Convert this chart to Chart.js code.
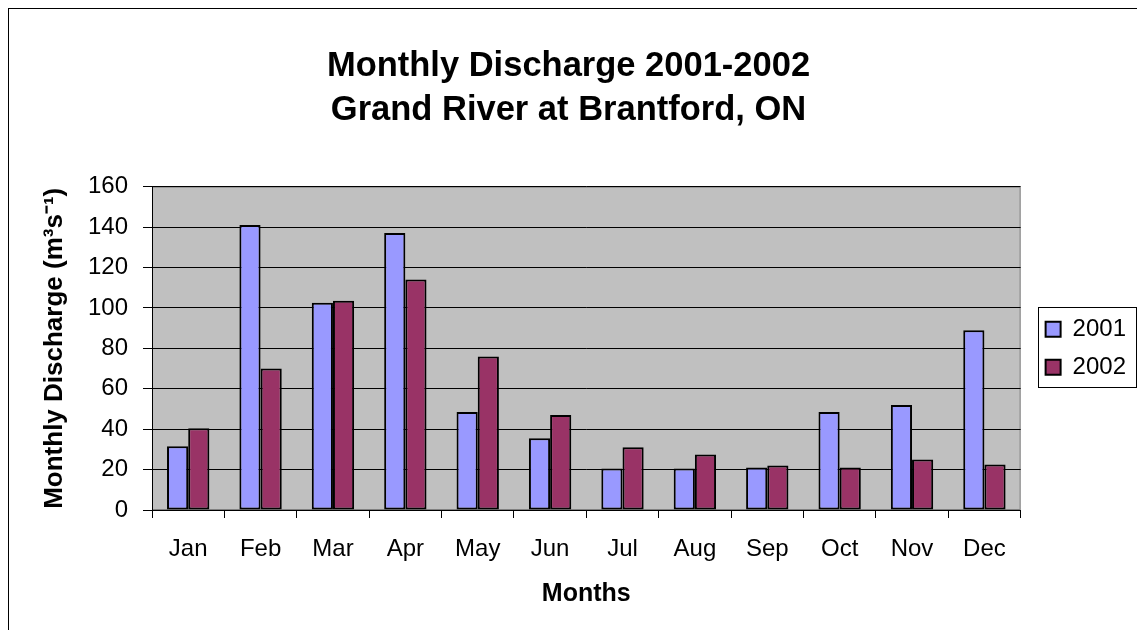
<!DOCTYPE html>
<html>
<head>
<meta charset="utf-8">
<script src="https://cdn.jsdelivr.net/npm/chart.js@4/dist/chart.umd.min.js"></script>
<style>
  html, body { margin: 0; padding: 0; background: #fff; overflow: hidden; }
  #frame { position: absolute; left: 8px; top: 8px; width: 1200px; height: 700px; border: 1px solid #000; }
  #wrap { position: absolute; left: 0; top: 0; width: 1137px; height: 630px; }
</style>
</head>
<body>
<div id="frame"></div>
<div id="wrap"><canvas id="grafico"></canvas></div>
<script>
const MESES = ['Jan', 'Feb', 'Mar', 'Apr', 'May', 'Jun', 'Jul', 'Aug', 'Sep', 'Oct', 'Nov', 'Dec'];
const VAZAO_2001 = [31.5, 141, 102.5, 137, 48.5, 35.5, 20.5, 20.5, 21, 48.5, 52, 89];
const VAZAO_2002 = [40.5, 70, 103.5, 114, 76, 47, 31, 27.5, 22, 21, 25, 22.5];
const Y_MIN = 0;
const Y_MAX = 160;
const Y_PASSO = 20;

const FONTE = '"Liberation Sans", Arial, sans-serif';

// fundo cinza da area do grafico
const fundoPlot = {
    id: 'fundoPlot',
    beforeDraw(chart) {
        const {ctx, chartArea: a} = chart;
        ctx.save();
        ctx.fillStyle = '#C0C0C0';
        ctx.fillRect(a.left, a.top, a.right - a.left, a.bottom - a.top);
        ctx.strokeStyle = '#808080';
        ctx.lineWidth = 1;
        ctx.strokeRect(a.left + 0.5, a.top + 0.5, a.right - a.left - 1, a.bottom - a.top - 1);
        ctx.restore();
    }
};

// legenda um pouco mais larga e deslocada p/ direita
const ajusteLegenda = {
    id: 'ajusteLegenda',
    beforeLayout(chart) {
        const leg = chart.legend;
        if (leg && !leg._alargada) {
            const fitOriginal = leg.fit;
            leg.fit = function () { fitOriginal.call(this); this.width += 12; };
            leg._alargada = true;
        }
    },
    afterLayout(chart) {
        const leg = chart.legend;
        if (!leg) return;
        leg.left += 11;
        leg.right += 11;
    }
};

// moldura da legenda
const bordaLegenda = {
    id: 'bordaLegenda',
    afterDraw(chart) {
        const caixas = chart.legend.legendHitBoxes;
        if (!caixas || !caixas.length) return;
        let x1 = Infinity, y1 = Infinity, x2 = -Infinity, y2 = -Infinity;
        caixas.forEach(b => {
            x1 = Math.min(x1, b.left); y1 = Math.min(y1, b.top);
            x2 = Math.max(x2, b.left + b.width); y2 = Math.max(y2, b.top + b.height);
        });
        const ctx = chart.ctx;
        ctx.save();
        ctx.strokeStyle = '#000';
        ctx.lineWidth = 1;
        ctx.strokeRect(Math.round(x1 - 8) + 0.5, Math.round(y1 - 10) + 0.5, Math.round(x2 - x1 + 18), Math.round(y2 - y1 + 18));
        ctx.restore();
    }
};

var grafico = new Chart(document.getElementById('grafico').getContext('2d'), {
    type: 'bar',
    data: {
        labels: MESES,
        datasets: [
            {
                label: '2001',
                data: VAZAO_2001,
                backgroundColor: '#9999FF',
                borderColor: '#000000',
                borderWidth: 2,
                borderSkipped: false
            },
            {
                label: '2002',
                data: VAZAO_2002,
                backgroundColor: '#993366',
                borderColor: '#000000',
                borderWidth: 2,
                borderSkipped: false
            }
        ]
    },
    options: {
        responsive: true,
        maintainAspectRatio: false,
        animation: false,
        layout: { padding: { left: 0, right: 0, top: 0, bottom: 0 } },
        datasets: { bar: { categoryPercentage: 0.585, barPercentage: 1.0 } },
        scales: {
            x: {
                grid: { display: true, drawOnChartArea: false, drawTicks: true, tickLength: 8, color: '#000', offset: true },
                border: { display: true, color: '#000', width: 1 },
                ticks: { color: '#000', font: { family: FONTE, size: 24 }, padding: 17, maxRotation: 0 },
                title: { display: true, text: 'Months', color: '#000', font: { family: FONTE, size: 25, weight: 'bold' }, padding: 21 },
                afterFit(scale) { scale.height = 120; }
            },
            y: {
                min: Y_MIN,
                max: Y_MAX,
                ticks: { stepSize: Y_PASSO, color: '#000', font: { family: FONTE, size: 24 }, padding: 15 },
                grid: { color: '#000', lineWidth: 1, drawTicks: true, tickLength: 9, tickColor: '#000' },
                border: { display: true, color: '#000', width: 1 },
                title: { display: true, text: 'Monthly Discharge (m³s⁻¹)', color: '#000', font: { family: FONTE, size: 26, weight: 'bold' }, padding: 39 },
                afterFit(scale) { scale.width = 152; }
            }
        },
        plugins: {
            title: {
                display: true,
                text: ['Monthly Discharge 2001-2002', 'Grand River at Brantford, ON'],
                color: '#000',
                font: { family: FONTE, size: 34.5, weight: 'bold', lineHeight: 1.27 },
                padding: { top: 45, bottom: 54 }
            },
            legend: {
                position: 'right',
                fullSize: false,
                labels: {
                    color: '#000',
                    font: { family: FONTE, size: 24 },
                    boxWidth: 15,
                    boxHeight: 15,
                    padding: 14
                }
            },
            tooltip: { enabled: false }
        }
    },
    plugins: [fundoPlot, ajusteLegenda, bordaLegenda]
});
</script>
</body>
</html>
